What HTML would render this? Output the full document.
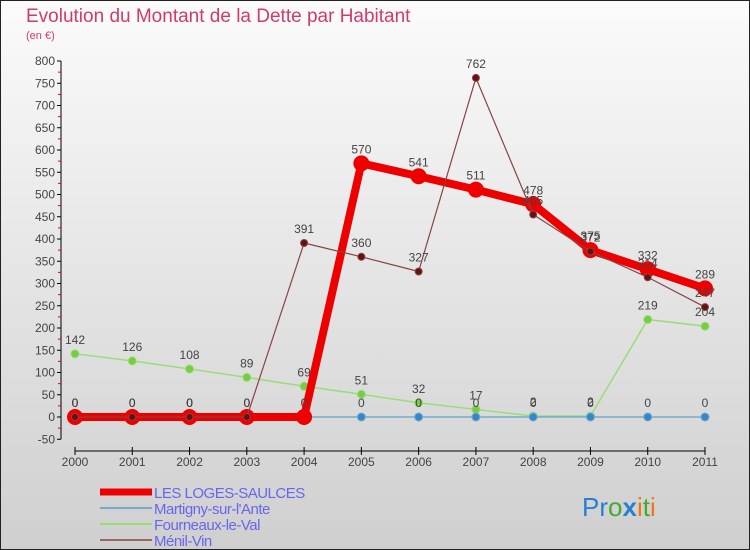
<!DOCTYPE html>
<html><head><meta charset="utf-8"><style>
body{margin:0}
#c{width:750px;height:550px;position:relative;overflow:hidden;font-family:"Liberation Sans",sans-serif}
</style></head><body>
<div id="c">
<svg id="s" width="750" height="550">
<defs><linearGradient id="bg" x1="0" y1="0" x2="0" y2="1"><stop offset="0" stop-color="#fbfbfb"/><stop offset="1" stop-color="#cfcfcf"/></linearGradient></defs>
<rect x="0.5" y="0.5" width="749" height="549" fill="url(#bg)" stroke="#222"/>
<text x="26" y="22" font-size="19" fill="#d03a6e">Evolution du Montant de la Dette par Habitant</text>
<text x="26" y="39" font-size="11" fill="#d03a6e">(en €)</text>
<g id="ax"></g><g id="series"></g><g id="legend"></g>
<text x="582" y="516" font-size="26"><tspan fill="#2a7fd0">Pr</tspan><tspan fill="#44aa33">o</tspan><tspan fill="#2a7fd0" font-weight="bold">x</tspan><tspan fill="#ee7711">i</tspan><tspan fill="#44aa33">t</tspan><tspan fill="#ee7711">i</tspan></text>
</svg></div>
<script>
const years=[2000,2001,2002,2003,2004,2005,2006,2007,2008,2009,2010,2011];
const yTicks=[-50,0,50,100,150,200,250,300,350,400,450,500,550,600,650,700,750,800];
const seriesNames=["LES LOGES-SAULCES","Martigny-sur-l'Ante","Fourneaux-le-Val","Ménil-Vin"];
const loges=[0,0,0,0,0,570,541,511,478,375,332,289];
const martigny=[0,0,0,0,0,0,0,0,0,0,0,0];
const fourneaux=[142,126,108,89,69,51,32,17,2,2,219,204];
const menil=[0,0,0,0,391,360,327,762,455,372,314,247];
const NS="http://www.w3.org/2000/svg";
function X(i){return 75+i*(705-75)/11;}
function Y(v){return 417-v*0.445;}
function mk(t,a,p){const e=document.createElementNS(NS,t);for(const k in a)e.setAttribute(k,a[k]);p.appendChild(e);return e;}
const ax=document.getElementById('ax');
let l=mk('line',{x1:61,y1:Y(800),x2:61,y2:Y(-50),stroke:'#000'},ax);


yTicks.forEach((v,i)=>{
 mk('line',{x1:57,y1:Y(v),x2:61,y2:Y(v),stroke:'#000'},ax);
 if(i<yTicks.length-1)mk('line',{x1:58,y1:Y(v+25),x2:61,y2:Y(v+25),stroke:'#e00'},ax);
 const t=mk('text',{x:55,y:Y(v)+4,'font-size':12,'text-anchor':'end',fill:'#444'},ax);t.textContent=v;
 
 
});
l=mk('line',{x1:X(0),y1:451,x2:X(11),y2:451,stroke:'#000'},ax);


years.forEach((y,i)=>{
 mk('line',{x1:X(i),y1:447,x2:X(i),y2:455,stroke:'#000'},ax);
 const t=mk('text',{x:X(i),y:466,'font-size':12,'text-anchor':'middle',fill:'#444'},ax);t.textContent=y;
 
 
});
const sg=document.getElementById('series');
function draw(vals,name,color,w,r,fill,skipLabel){
 const g=mk('g',{},sg);
 
 
 mk('polyline',{points:vals.map((v,i)=>X(i)+','+Y(v)).join(' '),fill:'none',stroke:color,'stroke-width':w,'stroke-linejoin':'round'},g);
 vals.forEach((v,i)=>{
  const c=mk('circle',{cx:X(i),cy:Y(v),r:r,fill:fill,stroke:color,'stroke-width':r>5?2:1},g);
  
  
  const t=mk('text',{x:X(i),y:Y(v)-10,'font-size':12,'text-anchor':'middle',fill:'#444'},g);t.textContent=v;
  
  
 });
}
draw(fourneaux,'fourneaux-series','#99dd77',1.5,4,'#77cc44');
draw(martigny,'martigny-series','#77aacc',1.5,4,'#3388cc');
draw(loges,'loges-series','#ee0000',8,7,'#ee0000');
draw(menil,'menil-series','#884444',1.2,3.5,'#661111');
const lg=document.getElementById('legend');
const lc=['#ee0000','#77aacc','#99dd77','#996666'],lw=[7,2,2,2];
seriesNames.forEach((n,i)=>{
 const y=492+i*16;
 const g=mk('g',{},lg);
 
 
 mk('line',{x1:100,y1:y,x2:152,y2:y,stroke:lc[i],'stroke-width':lw[i]},g);
 const t=mk('text',{x:154,y:y+6,'font-size':15,fill:'#6666ee','letter-spacing':'-0.5'},g);t.textContent=n;
});
</script></body></html>
